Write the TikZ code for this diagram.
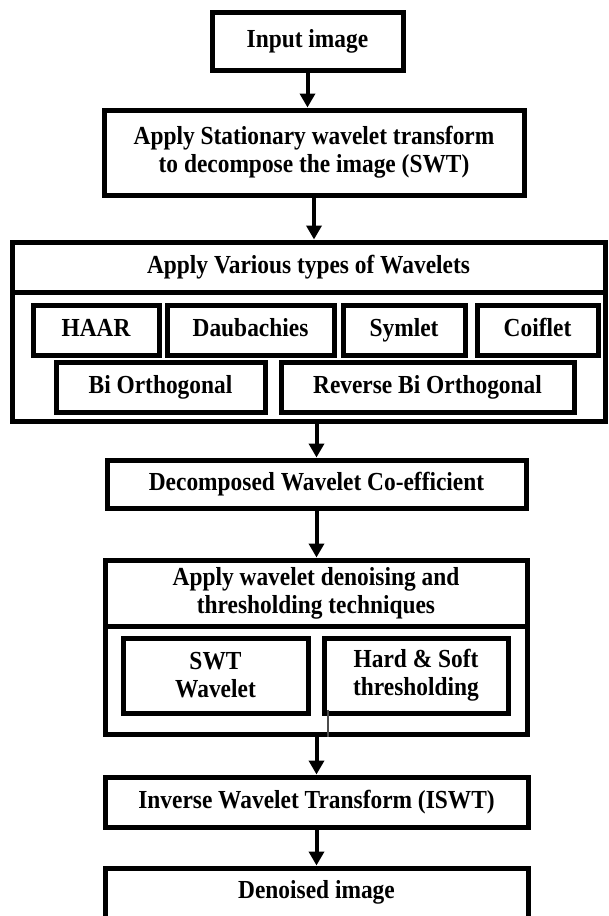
\documentclass[tikz,border=0pt]{standalone}
\usepackage{fontspec}
\setmainfont{Liberation Serif}[FakeStretch=0.9]
\usetikzlibrary{arrows.meta,calc}
\begin{document}
\begin{tikzpicture}[x=1pt,y=-1pt,
  box/.style={draw=black,line width=5pt,rectangle,inner sep=0pt,align=center,
    font=\bfseries\fontsize{26}{28}\selectfont},
  one/.style={text height=17pt,text depth=5pt},
  arr/.style={draw=black,line width=4pt,-{Triangle[width=15pt,length=14pt]}},
  thin/.style={draw=black!70,line width=1.2pt},
  ]
\useasboundingbox (0,0) rectangle (608,916);
\fill[white] (0,0) rectangle (608,916);
\clip (0,0) rectangle (608,916);
% main column
\node[box,one,minimum width=191,minimum height=58] (input) at (307.5,41) {Input image};
\node[box,minimum width=420,minimum height=85] (swt) at (314,152.5)
  {Apply Stationary wavelet transform\\to decompose the image (SWT)};
% wavelet types group
\node[box,one,minimum width=593,minimum height=50] (w1title) at (308.5,267) {Apply Various types of Wavelets};
\node[box,minimum width=593,minimum height=129] (w1body) at (308.5,356.5) {};
\node[box,one,minimum width=126,minimum height=50] (haar) at (96,330) {HAAR};
\node[box,one,minimum width=167,minimum height=50] (daub) at (250.5,330) {Daubachies};
\node[box,one,minimum width=122,minimum height=50] (sym) at (404,330) {Symlet};
\node[box,one,minimum width=121,minimum height=50] (coif) at (537.5,330) {Coiflet};
\node[box,one,minimum width=209,minimum height=50] (bior) at (160.5,387) {Bi Orthogonal};
\node[box,one,minimum width=293,minimum height=50] (rbior) at (427.5,387) {Reverse Bi Orthogonal};
% coefficients
\node[box,one,minimum width=419,minimum height=48] (dec) at (316.5,484) {Decomposed Wavelet Co-efficient};
% denoising group
\node[box,minimum width=422,minimum height=66] (w2title) at (316,593) {Apply wavelet denoising and\\thresholding techniques};
\node[box,minimum width=422,minimum height=108] (w2body) at (316,680) {};
\node[box,minimum width=185,minimum height=75] (swtw) at (215.5,675.5) {SWT\\Wavelet};
\node[box,minimum width=184,minimum height=75] (hard) at (416,675.5) {Hard \& Soft\\thresholding};
% inverse and output
\node[box,one,minimum width=423,minimum height=50] (inv) at (316.5,802) {Inverse Wavelet Transform (ISWT)};
\node[box,minimum width=423,minimum height=56,text height=17pt,text depth=13pt] (den) at (316.5,896) {Denoised image};
% connectors
\draw[arr] (input.south) -- (input.south |- swt.north);
\draw[arr] (swt.south) -- (swt.south |- w1title.north);
\draw[arr] (dec.north |- w1body.south) -- (dec.north);
\draw[arr] (dec.south) -- (dec.south |- w2title.north);
\draw[arr] (inv.north |- w2body.south) -- (inv.north);
\draw[arr] (inv.south) -- (inv.south |- den.north);
\coordinate (tstart) at ($(hard.south west)+(6.5,-6)$);
\draw[thin] (tstart) -- (tstart |- w2body.south);
\end{tikzpicture}
\end{document}
